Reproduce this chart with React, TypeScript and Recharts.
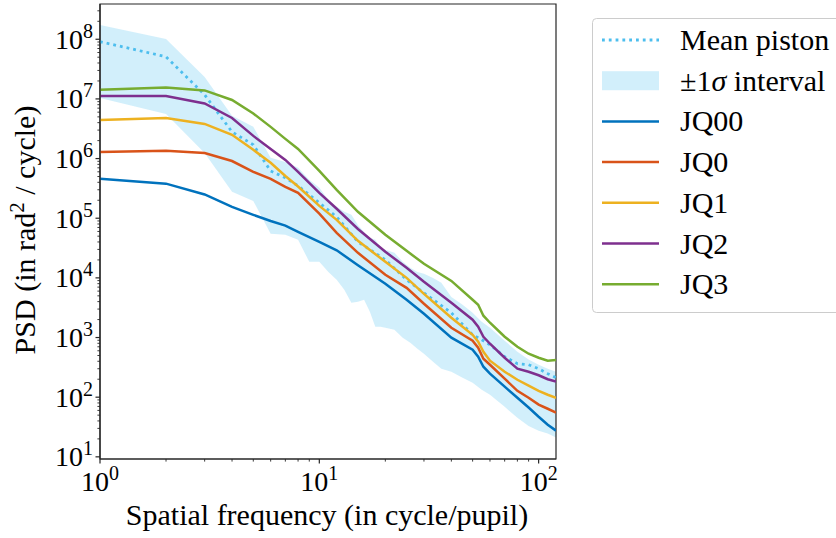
import React from 'react';
import { ComposedChart, Line, Area, XAxis, YAxis, ReferenceArea, Legend, Label } from 'recharts';

const FONT = '"Liberation Serif", "Times New Roman", serif';

// spatial frequencies (cycle/pupil) at which the curves are sampled
const freq = [1, 2, 3, 4, 5, 6, 7, 8, 10, 12, 15, 20, 25, 30, 40, 50, 53, 56, 60, 70, 80, 90, 100, 110, 120];

const meanPiston = [9.1e7, 5.1e7, 1.17e7, 2.8e6, 1.7e6, 6.2e5, 4.75e5, 3.5e5, 1.81e5, 1.05e5, 4.03e4, 2.01e4, 9.3e3, 5.6e3, 2.6e3, 1.11e3, 993, 883, 757, 477, 364, 350, 300, 248, 212];
const jq00 = [4.6e5, 3.8e5, 2.5e5, 1.55e5, 1.14e5, 9.0e4, 7.5e4, 5.9e4, 4.0e4, 2.9e4, 1.63e4, 7.96e3, 4.3e3, 2.5e3, 993, 625, 477, 324, 248, 150, 98, 67, 47, 34.6, 27.5];
const jq0 = [1.29e6, 1.35e6, 1.24e6, 9.1e5, 6.0e5, 4.57e5, 3.36e5, 2.67e5, 1.19e5, 5.7e4, 2.63e4, 1.13e4, 6.8e3, 3.68e3, 1.46e3, 883, 675, 442, 350, 204, 128, 98, 75, 64, 55];
const jq1 = [4.45e6, 4.8e6, 3.81e6, 2.5e6, 1.4e6, 8.5e5, 5.1e5, 3.4e5, 1.61e5, 9.4e4, 4.18e4, 1.86e4, 1.0e4, 5.4e3, 2.15e3, 1.11e3, 851, 578, 409, 267, 196, 156, 128, 110, 98];
const jq2 = [1.12e7, 1.12e7, 8.4e6, 4.8e6, 2.4e6, 1.45e6, 9.5e5, 6.0e5, 2.66e5, 1.44e5, 6.6e4, 2.74e4, 1.48e4, 8.6e3, 3.83e3, 1.99e3, 1.52e3, 1.03e3, 787, 459, 300, 267, 233, 200, 182];
const jq3 = [1.42e7, 1.56e7, 1.39e7, 9.6e6, 5.7e6, 3.4e6, 2.14e6, 1.45e6, 6.2e5, 2.99e5, 1.28e5, 5.3e4, 2.84e4, 1.72e4, 8.9e3, 4.3e3, 3.55e3, 2.32e3, 1.77e3, 1.03e3, 701, 535, 459, 409, 420];

// ±1 sigma interval
const bandFreq = [1, 2, 3, 4, 5, 6, 7, 8, 9, 10, 11, 12, 13, 14, 15, 16, 17, 18, 19, 20, 22, 24, 26, 28, 30, 33, 36, 40, 45, 50, 55, 60, 70, 80, 90, 100, 110, 120];
const bandHigh = [1.74e8, 1.01e8, 2.34e7, 5.2e6, 3.4e6, 1.03e6, 8.8e5, 7.0e5, 4.4e5, 3.23e5, 2.03e5, 1.55e5, 1.28e5, 1.14e5, 7.7e4, 5.9e4, 4.7e4, 4.35e4, 3.19e4, 2.96e4, 2.63e4, 1.86e4, 1.48e4, 1.26e4, 1.17e4, 1.0e4, 8.3e3, 4.8e3, 3.55e3, 2.6e3, 1.84e3, 1.46e3, 883, 578, 427, 350, 300, 267];
const bandLow = [1.04e7, 5.6e6, 1.24e6, 2.77e5, 1.95e5, 5.5e4, 5.3e4, 4.35e4, 1.86e4, 1.86e4, 1.26e4, 9.3e3, 6.3e3, 3.83e3, 3.98e3, 4.3e3, 2.7e3, 1.52e3, 1.52e3, 1.46e3, 1.35e3, 993, 818, 649, 535, 393, 300, 267, 212, 174, 133, 110, 69, 45, 33, 27.5, 24.5, 21];

const xMajor = [1, 10, 100];
const yMajor = [10, 100, 1e3, 1e4, 1e5, 1e6, 1e7, 1e8];
const xDomain = [1, 120];
const yDomain = [9.2, 3.9e8];

const withMinors = (majors: number[], lo: number, hi: number) => {
  const out: number[] = [];
  for (const m of majors) {
    for (let k = 1; k <= 9; k++) {
      const v = k * m;
      if (v >= lo && v <= hi) out.push(v);
    }
  }
  return out;
};
const xTicks = withMinors(xMajor, xDomain[0], xDomain[1]);
const yTicks = withMinors([1, ...yMajor], yDomain[0], yDomain[1]);

const series = [
  { name: 'JQ00', values: jq00, color: '#0072BD' },
  { name: 'JQ0', values: jq0, color: '#D95319' },
  { name: 'JQ1', values: jq1, color: '#EDB120' },
  { name: 'JQ2', values: jq2, color: '#7E2F8E' },
  { name: 'JQ3', values: jq3, color: '#77AC30' },
];
const MEAN_COLOR = '#4DBEEE';

const meanRows = freq.map((f, i) => ({ f, v: meanPiston[i] }));
const bandRows = bandFreq.map((f, i) => ({ f, range: [bandLow[i], bandHigh[i]] }));
const seriesRows = series.map((s) => freq.map((f, i) => ({ f, v: s.values[i] })));

const AX = '#262626';
const PLOT_LEFT = 100;
const PLOT_BOTTOM = 459;
const LW = 2.5;

const isMajor = (v: number) => {
  const e = Math.round(Math.log10(v));
  return Math.abs(v / Math.pow(10, e) - 1) < 1e-6;
};

const YTick = (props: any) => {
  const { y, payload } = props;
  const v = payload.value;
  const major = isMajor(v);
  const e = Math.round(Math.log10(v));
  return (
    <g>
      <line x1={PLOT_LEFT - (major ? 4.5 : 2.6)} x2={PLOT_LEFT} y1={y} y2={y} stroke={AX} strokeWidth={major ? 1.2 : 0.9} />
      {major && (
        <text x={PLOT_LEFT - 7} y={y + 9.5} textAnchor="end" fontFamily={FONT} fontSize={28} fill="#000">
          10<tspan dy={-11} fontSize={20}>{e}</tspan>
        </text>
      )}
    </g>
  );
};

const XTick = (props: any) => {
  const { x, payload } = props;
  const v = payload.value;
  const major = isMajor(v);
  const e = Math.round(Math.log10(v));
  return (
    <g>
      <line x1={x} x2={x} y1={PLOT_BOTTOM} y2={PLOT_BOTTOM + (major ? 4.5 : 2.6)} stroke={AX} strokeWidth={major ? 1.2 : 0.9} />
      {major && (
        <text x={x} y={PLOT_BOTTOM + 32} textAnchor="middle" fontFamily={FONT} fontSize={28} fill="#000">
          10<tspan dy={-11} fontSize={20}>{e}</tspan>
        </text>
      )}
    </g>
  );
};

const ROW0 = 22;
const ROW_STEP = 40.7;

const renderLegend = () => {
  const rows = [
    { label: 'Mean piston', kind: 'mean' },
    { label: 'band', kind: 'band' },
    ...series.map((s) => ({ label: s.name, kind: 'line', color: s.color })),
  ] as any[];
  return (
    <svg width={260} height={296} style={{ display: 'block' }}>
      <rect x={0.5} y={0.5} width={258} height={294} rx={4} ry={4} fill="#ffffff" fillOpacity={0.8} stroke="#cccccc" strokeWidth={1} />
      {rows.map((r, i) => {
        const cy = ROW0 + i * ROW_STEP;
        return (
          <g key={i}>
            {r.kind === 'mean' && (
              <line x1={10} x2={67} y1={cy} y2={cy} stroke={MEAN_COLOR} strokeWidth={2.8} strokeDasharray="2.8 4" />
            )}
            {r.kind === 'band' && (
              <rect x={10} y={cy - 9.5} width={57} height={19} fill={MEAN_COLOR} fillOpacity={0.25} />
            )}
            {r.kind === 'line' && <line x1={10} x2={67} y1={cy} y2={cy} stroke={r.color} strokeWidth={LW} />}
            {r.kind === 'band' ? (
              <text x={88} y={cy + 10} fontFamily={FONT} fontSize={30} fill="#000">
                ±1<tspan fontStyle="italic">σ</tspan> interval
              </text>
            ) : (
              <text x={88} y={cy + 10} fontFamily={FONT} fontSize={30} fill="#000">
                {r.label}
              </text>
            )}
          </g>
        );
      })}
    </svg>
  );
};

const XTitle = () => (
  <text x={327} y={525} textAnchor="middle" fontFamily={FONT} fontSize={30} fill="#000">
    Spatial frequency (in cycle/pupil)
  </text>
);

const YTitle = () => (
  <text transform="translate(35,230) rotate(-90)" x={0} y={0} textAnchor="middle" fontFamily={FONT} fontSize={30} fill="#000">
    PSD (in rad<tspan dy={-11} fontSize={21}>2</tspan>
    <tspan dy={11}> / cycle)</tspan>
  </text>
);

export default function App() {
  return (
    <div style={{ position: 'absolute', left: 0, top: 0, width: 836, height: 538, overflow: 'hidden', background: '#fff' }}>
      <ComposedChart width={836} height={538} margin={{ top: 4, right: 280, bottom: 0, left: 0 }}>
        <XAxis
          dataKey="f"
          type="number"
          scale="log"
          domain={xDomain}
          allowDataOverflow
          ticks={xTicks}
          interval={0}
          height={79}
          tickSize={0}
          tickMargin={0}
          tickLine={false}
          axisLine={{ stroke: AX, strokeWidth: 1.2 }}
          tick={<XTick />}
        >
          <Label content={<XTitle />} />
        </XAxis>
        <YAxis
          type="number"
          scale="log"
          domain={yDomain}
          allowDataOverflow
          ticks={yTicks}
          interval={0}
          width={100}
          tickSize={0}
          tickMargin={0}
          tickLine={false}
          axisLine={{ stroke: AX, strokeWidth: 1.2 }}
          tick={<YTick />}
        >
          <Label content={<YTitle />} />
        </YAxis>
        <Area
          data={bandRows}
          dataKey="range"
          type="linear"
          stroke="none"
          fill={MEAN_COLOR}
          fillOpacity={0.25}
          isAnimationActive={false}
          dot={false}
          activeDot={false}
          name="±1σ interval"
        />
        <Line
          data={meanRows}
          dataKey="v"
          type="linear"
          stroke={MEAN_COLOR}
          strokeWidth={2.8}
          strokeDasharray="2.8 4"
          dot={false}
          activeDot={false}
          isAnimationActive={false}
          name="Mean piston"
        />
        {series.map((s, i) => (
          <Line
            key={s.name}
            data={seriesRows[i]}
            dataKey="v"
            type="linear"
            stroke={s.color}
            strokeWidth={LW}
            dot={false}
            activeDot={false}
            isAnimationActive={false}
            name={s.name}
          />
        ))}
        <ReferenceArea x1={xDomain[0]} x2={xDomain[1]} y1={yDomain[0]} y2={yDomain[1]} fill="none" fillOpacity={0} stroke={AX} strokeWidth={1.2} ifOverflow="visible" />
        <Legend
          layout="vertical"
          align="center"
          verticalAlign="middle"
          content={renderLegend}
          wrapperStyle={{ position: 'absolute', left: 592, top: 18, width: 260, height: 296 }}
        />
      </ComposedChart>
    </div>
  );
}
